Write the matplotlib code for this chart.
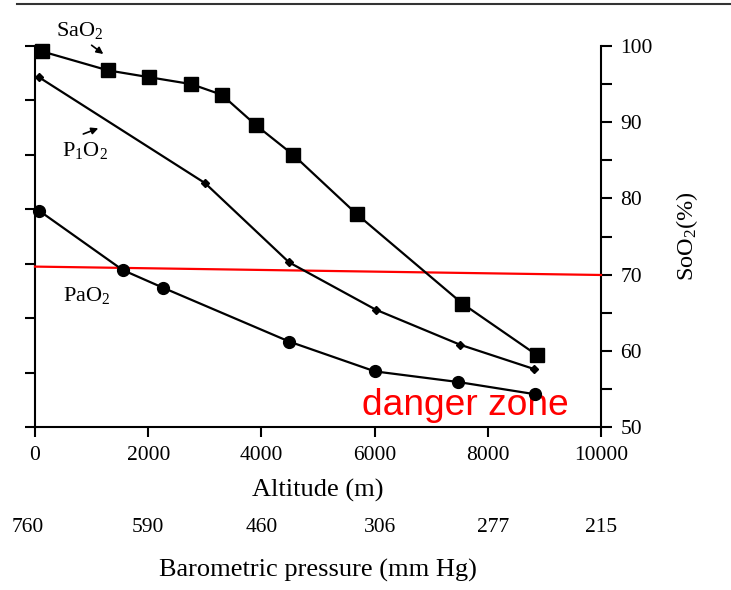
import numpy as np
import matplotlib
matplotlib.use("Agg")
import matplotlib.pyplot as plt
from matplotlib.ticker import FuncFormatter
from matplotlib.lines import Line2D
from matplotlib.transforms import ScaledTranslation

plt.rcParams['font.family'] = ['Liberation Serif', 'DejaVu Serif']
plt.rcParams['mathtext.fontset'] = 'custom'
plt.rcParams['mathtext.rm'] = 'Liberation Serif'
plt.rcParams['mathtext.it'] = 'Liberation Serif:italic'
plt.rcParams['mathtext.default'] = 'rm'

# ---- data ----
sao2_alt = [120, 1290, 2020, 2760, 3300, 3905, 4565, 5690, 7550, 8875]
sao2_val = [99.3, 96.8, 95.9, 95.0, 93.6, 89.6, 85.7, 77.9, 66.2, 59.4]

pio2_alt = [70, 3005, 4490, 6020, 7510, 8820]
pio2_val = [95.9, 82.0, 71.6, 65.4, 60.8, 57.6]

pao2_alt = [70, 1550, 2255, 4495, 6005, 7480, 8835]
pao2_val = [78.4, 70.6, 68.3, 61.2, 57.3, 55.9, 54.3]

danger_alt = [0, 10000]
danger_val = [71.05, 69.95]

alt_ticks = [0, 2000, 4000, 6000, 8000, 10000]
pressure_pos = [0, 2000, 4000, 6100, 8100, 10000]
pressure_labels = ["760", "590", "460", "306", "277", "215"]

fig = plt.figure(figsize=(7.31, 5.90), dpi=100)
ax = fig.add_axes([35/731, 1 - 427/590, (601-35)/731, (427-46)/590])

lw = 1.6
ax.plot(sao2_alt, sao2_val, color='black', lw=lw, marker='s', ms=9.5,
        clip_on=False, zorder=4)
ax.plot(pio2_alt, pio2_val, color='black', lw=lw, marker='D', ms=4.5,
        clip_on=False, zorder=4)
ax.plot(pao2_alt, pao2_val, color='black', lw=lw, marker='o', ms=8.5,
        clip_on=False, zorder=4)
ax.plot(danger_alt, danger_val, color='#ff0000', lw=1.6, clip_on=False, zorder=3)

ax.set_xlim(0, 10000)
ax.set_ylim(50, 100)

for s in ['top', 'left']:
    ax.spines[s].set_visible(False)
for s in ['bottom', 'right']:
    ax.spines[s].set_linewidth(1.5)

ax.set_xticks(alt_ticks)
ax.tick_params(axis='x', direction='out', length=7, width=1.5, labelsize=15.5, pad=6.5)
ax.yaxis.set_ticks_position('right')
ax.yaxis.set_label_position('right')
ax.set_yticks(np.arange(50, 101, 5))
ax.yaxis.set_major_formatter(FuncFormatter(lambda v, p: f"{int(v)}" if int(v) % 10 == 0 else ""))
ax.tick_params(axis='y', direction='out', length=8, width=1.5, labelsize=15.5, pad=6)
ax.set_xlabel("Altitude (m)", fontsize=19, labelpad=10)
ax.set_ylabel(r"SoO$_2$(%)", fontsize=17.5, labelpad=15)

# left axis: ticks only
sec_l = ax.secondary_yaxis('left')
sec_l.set_yticks(np.linspace(50, 100, 8))
sec_l.set_yticklabels([])
sec_l.spines['left'].set_linewidth(1.5)
sec_l.tick_params(axis='y', direction='out', length=7, width=1.5)

# barometric pressure labels
sec_b = ax.secondary_xaxis(-0.205)
sec_b.set_xticks(pressure_pos)
sec_b.set_xticklabels(pressure_labels)
sec_b.spines['bottom'].set_visible(False)
sec_b.tick_params(axis='x', length=0, labelsize=15.5, pad=9)
sec_b.set_xlabel("Barometric pressure (mm Hg)", fontsize=19, labelpad=16)
first = sec_b.get_xticklabels()[0]
first.set_transform(first.get_transform() + ScaledTranslation(-7/100, 0, fig.dpi_scale_trans))

# annotations
ax.text(795, 102.0, r"SaO$_2$", fontsize=16, ha='center', va='center', clip_on=False)
ax.annotate("", xy=(1207, 98.95), xytext=(1000, 100.1),
            arrowprops=dict(arrowstyle='-|>', color='black', lw=1.2, mutation_scale=10,
                            shrinkA=0, shrinkB=0),
            annotation_clip=False)
ax.text(890, 86.35, r"P$_1$O$_2$", fontsize=16, ha='center', va='center')
ax.annotate("", xy=(1118, 89.2), xytext=(853, 88.45),
            arrowprops=dict(arrowstyle='-|>', color='black', lw=1.2, mutation_scale=10,
                            shrinkA=0, shrinkB=0))
ax.text(910, 67.3, r"PaO$_2$", fontsize=16, ha='center', va='center')

ax.text(5777, 51.6, "danger zone", fontsize=26.7, color='#ff0000',
        family='Liberation Sans', ha='left', va='baseline', zorder=2)

# top rule
fig.add_artist(Line2D([17/731, 1], [1 - 4/590, 1 - 4/590], color='#333333', lw=1.5))

fig.savefig("out.png", dpi=100)
